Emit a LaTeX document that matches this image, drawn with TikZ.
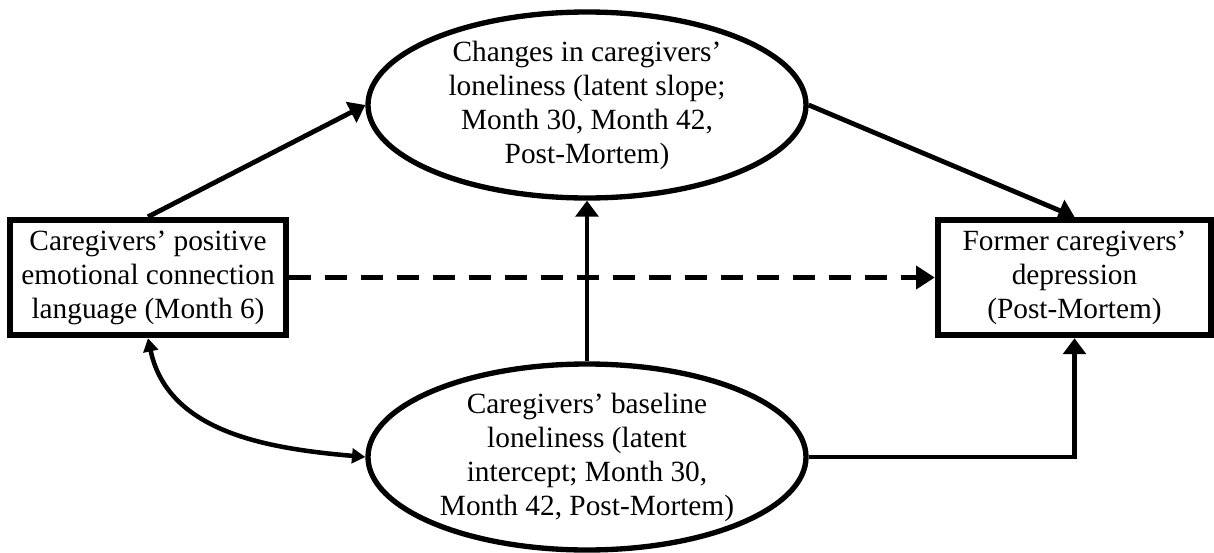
\documentclass[tikz,border=0pt]{standalone}
\usepackage{fontspec}
\setmainfont{Liberation Serif}
\usetikzlibrary{shapes.geometric,arrows.meta}
\begin{document}
\begin{tikzpicture}[x=0.75pt,y=-0.75pt,
  every node/.style={font=\fontsize{22pt}{25.5pt}\selectfont, align=center},
  boxnode/.style={draw, line width=4.8pt, rectangle, inner sep=0pt, minimum height=86.25pt},
  ellnode/.style={draw, line width=4pt, ellipse, inner sep=0pt, minimum width=328.5pt, minimum height=139.5pt},
  conn/.style={line width=3.6pt, -{Triangle[length=12pt,width=17pt]}},
  dconn/.style={line width=4.2pt, dash pattern=on 16pt off 11pt, -{Triangle[length=14pt,width=17pt]}},
  biconn/.style={line width=3.4pt, {Triangle[length=10pt,width=11pt]}-{Triangle[length=10pt,width=11pt]}}
]
\useasboundingbox (0,0) rectangle (1214,553);
\fill[white] (0,0) rectangle (1214,553);

\node[boxnode, minimum width=207pt] (pos) at (148,277.5)
  {Caregivers’ positive\\emotional connection\\language (Month 6)};
\node[boxnode, minimum width=204.75pt] (dep) at (1074.5,277.5)
  {Former caregivers’\\depression\\(Post-Mortem)};
\node[ellnode] (slope) at (587,105)
  {Changes in caregivers’\\loneliness (latent slope;\\Month 30, Month 42,\\Post-Mortem)};
\node[ellnode] (base) at (587,457)
  {Caregivers’ baseline\\loneliness (latent\\intercept; Month 30,\\Month 42, Post-Mortem)};

\draw[conn] (pos.north) -- (slope.west);
\draw[conn] (slope.east) -- (dep.north);
\draw[dconn] (pos.east) -- (dep.west);
\draw[conn] (base.north) -- (slope.south);
\draw[conn] (base.east) -| (dep.south);
\draw[biconn] (pos.south) to[out=-78,in=175] (base.west);
\end{tikzpicture}
\end{document}
